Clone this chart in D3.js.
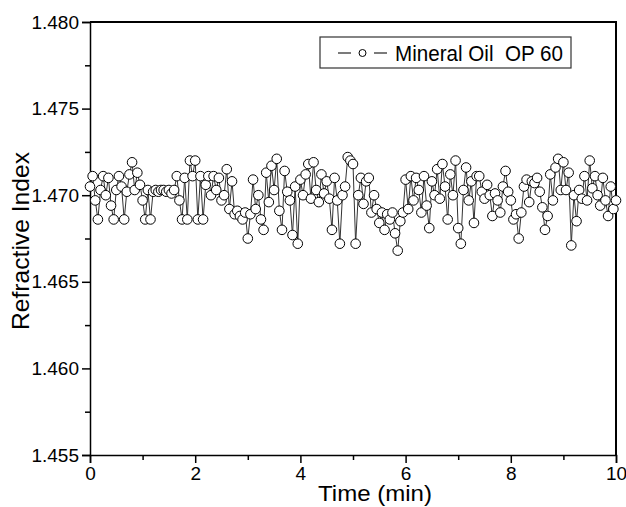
<!DOCTYPE html>
<html>
<head>
<meta charset="utf-8">
<script src="https://cdn.jsdelivr.net/npm/d3@7"></script>
<style>
  body { margin: 0; background: #fff; }
  svg { display: block; font-family: "Liberation Sans", Arial, sans-serif; }
</style>
</head>
<body>
<div id="chart-area"></div>
<script>
// Data: refractive index sampled every 0.05 min (0 .. 10 min)
const timeStep = 0.05
const seriesName = "Mineral Oil  OP 60"
const refractiveIndex = [
	// 0 - 1 min
	1.4705, 1.4711, 1.4697, 1.4686, 1.4703, 1.4711, 1.4700, 1.4710, 1.4694, 1.4686,
	1.4703, 1.4711, 1.4705, 1.4686, 1.4702, 1.4712, 1.4719, 1.4703, 1.4713, 1.4706,
	// 1 - 2 min
	1.4697, 1.4686, 1.4703, 1.4686, 1.4702, 1.4703, 1.4702, 1.4703, 1.4703, 1.4702,
	1.4703, 1.4701, 1.4703, 1.4711, 1.4697, 1.4686, 1.4710, 1.4686, 1.4720, 1.4711,
	// 2 - 3 min
	1.4720, 1.4686, 1.4711, 1.4686, 1.4706, 1.4711, 1.4700, 1.4711, 1.4703, 1.4710,
	1.4697, 1.4700, 1.4715, 1.4692, 1.4708, 1.4689, 1.4691, 1.4688, 1.4686, 1.4690,
	// 3 - 4 min
	1.4675, 1.4689, 1.4709, 1.4692, 1.4700, 1.4686, 1.4680, 1.4713, 1.4696, 1.4717,
	1.4703, 1.4721, 1.4691, 1.4680, 1.4714, 1.4702, 1.4697, 1.4677, 1.4705, 1.4672,
	// 4 - 5 min
	1.4709, 1.4700, 1.4712, 1.4718, 1.4698, 1.4719, 1.4703, 1.4696, 1.4712, 1.4701,
	1.4708, 1.4698, 1.4680, 1.4710, 1.4697, 1.4672, 1.4700, 1.4705, 1.4722, 1.4720,
	// 5 - 6 min
	1.4718, 1.4672, 1.4700, 1.4710, 1.4695, 1.4708, 1.4710, 1.4690, 1.4700, 1.4692,
	1.4684, 1.4690, 1.4680, 1.4689, 1.4686, 1.4690, 1.4678, 1.4668, 1.4685, 1.4690,
	// 6 - 7 min
	1.4709, 1.4692, 1.4711, 1.4697, 1.4710, 1.4703, 1.4690, 1.4711, 1.4694, 1.4681,
	1.4708, 1.4700, 1.4715, 1.4698, 1.4718, 1.4705, 1.4686, 1.4712, 1.4700, 1.4720,
	// 7 - 8 min
	1.4681, 1.4672, 1.4703, 1.4716, 1.4697, 1.4708, 1.4684, 1.4711, 1.4711, 1.4702,
	1.4698, 1.4706, 1.4700, 1.4688, 1.4701, 1.4697, 1.4690, 1.4705, 1.4714, 1.4702,
	// 8 - 9 min
	1.4697, 1.4686, 1.4689, 1.4675, 1.4690, 1.4705, 1.4709, 1.4696, 1.4708, 1.4707,
	1.4710, 1.4702, 1.4693, 1.4680, 1.4688, 1.4712, 1.4697, 1.4716, 1.4721, 1.4703,
	// 9 - 10 min
	1.4719, 1.4703, 1.4713, 1.4671, 1.4700, 1.4685, 1.4703, 1.4698, 1.4711, 1.4697,
	1.4720, 1.4704, 1.4711, 1.4700, 1.4694, 1.4710, 1.4697, 1.4688, 1.4705, 1.4692,
	1.4697
]
const xTicks = [0, 2, 4, 6, 8, 10]
const xMinorTicks = [1, 3, 5, 7, 9]
const yTicks = [1.455, 1.460, 1.465, 1.470, 1.475, 1.480]
const yMinorTicks = [1.4575, 1.4625, 1.4675, 1.4725, 1.4775]

const data = refractiveIndex.map((v, i) => ({ t: i * timeStep, v: v }))

// Margins, Canvas, Graph
const margin = { left: 90, right: 10, top: 22, bottom: 52 },
	width = 626 - margin.left - margin.right,
	height = 507 - margin.top - margin.bottom

const svg = d3.select("#chart-area")
	.append("svg")
	.attr("width", 626)
	.attr("height", 507)

const g = svg.append("g")
	.attr("transform", `translate(${margin.left}, ${margin.top})`)

// Scales
const x = d3.scaleLinear().domain([0, 10]).range([0, width])
const y = d3.scaleLinear().domain([1.455, 1.480]).range([height, 0])

// Axes (major + minor, ticks outside)
g.append("g")
	.attr("transform", `translate(0, ${height})`)
	.call(d3.axisBottom(x).tickValues(xTicks).tickSize(8).tickPadding(4).tickFormat(d3.format("d")))
g.append("g")
	.attr("transform", `translate(0, ${height})`)
	.call(d3.axisBottom(x).tickValues(xMinorTicks).tickSize(5).tickFormat(""))
	.select(".domain").remove()

g.append("g")
	.call(d3.axisLeft(y).tickValues(yTicks).tickSize(8).tickPadding(3).tickFormat(d3.format(".3f")))
g.append("g")
	.call(d3.axisLeft(y).tickValues(yMinorTicks).tickSize(5).tickFormat(""))
	.select(".domain").remove()

svg.selectAll(".tick line").attr("stroke", "#000").attr("stroke-width", 1.5)
svg.selectAll(".domain").attr("stroke", "#000").attr("stroke-width", 1.5)
svg.selectAll(".tick text")
	.attr("fill", "#000")
	.attr("font-size", "19px")
	.attr("font-family", "'Liberation Sans', Arial, sans-serif")

// Top and right frame
g.append("path")
	.attr("fill", "none")
	.attr("stroke", "#000")
	.attr("stroke-width", 2)
	.attr("d", `M0,0H${width}V${height}`)

// Line and markers
const line = d3.line()
	.x(d => x(d.t))
	.y(d => y(d.v))

g.append("path")
	.attr("fill", "none")
	.attr("stroke", "#333")
	.attr("stroke-width", 1)
	.attr("d", line(data))

g.selectAll(".pt")
	.data(data)
	.enter().append("circle")
	.attr("class", "pt")
	.attr("cx", d => x(d.t))
	.attr("cy", d => y(d.v))
	.attr("r", 4.8)
	.attr("fill", "#fff")
	.attr("stroke", "#000")
	.attr("stroke-width", 1)

// Legend
const legend = svg.append("g").attr("transform", "translate(320, 37)")
legend.append("rect")
	.attr("width", 251)
	.attr("height", 31)
	.attr("fill", "#fff")
	.attr("stroke", "#333")
	.attr("stroke-width", 1.2)
legend.append("line")
	.attr("x1", 18).attr("x2", 31).attr("y1", 16).attr("y2", 16)
	.attr("stroke", "#222").attr("stroke-width", 1.2)
legend.append("line")
	.attr("x1", 54).attr("x2", 67).attr("y1", 16).attr("y2", 16)
	.attr("stroke", "#222").attr("stroke-width", 1.2)
legend.append("circle")
	.attr("cx", 42.5).attr("cy", 16).attr("r", 3.5)
	.attr("fill", "#fff").attr("stroke", "#000")
legend.append("text")
	.attr("x", 75)
	.attr("y", 24)
	.attr("font-size", "22px")
	.attr("textLength", 168)
	.attr("lengthAdjust", "spacingAndGlyphs")
	.style("white-space", "pre")
	.text(seriesName)

// Axes Labels
svg.append("text")
	.attr("x", 375)
	.attr("y", 501)
	.attr("font-size", "22px")
	.attr("text-anchor", "middle")
	.attr("textLength", 114)
	.attr("lengthAdjust", "spacingAndGlyphs")
	.text("Time (min)")

svg.append("text")
	.attr("transform", "rotate(-90)")
	.attr("x", -241)
	.attr("y", 29)
	.attr("font-size", "24px")
	.attr("text-anchor", "middle")
	.attr("textLength", 178)
	.attr("lengthAdjust", "spacingAndGlyphs")
	.text("Refractive Index")
</script>
</body>
</html>
